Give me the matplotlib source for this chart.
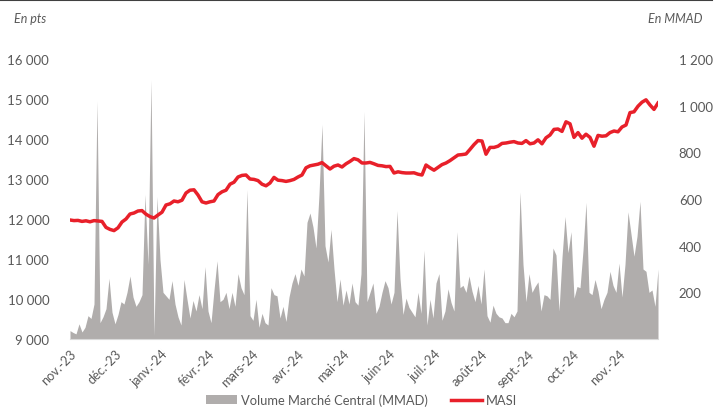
import matplotlib

matplotlib.use('Agg')
import matplotlib.pyplot as plt
from matplotlib.lines import Line2D
from matplotlib.patches import Patch
import pandas as pd

plt.rcParams['font.family'] = ['Lato', 'DejaVu Sans']

start, end = '2023-11-01', '2024-11-27'

# MASI (pts), evenly spaced over the period
masi = [11975, 11960, 11965, 11940, 11955, 11930, 11960, 11950, 11940, 11790,
        11740, 11710, 11780, 11925, 12000, 12125, 12150, 12200, 12210, 12120,
        12060, 12025, 12100, 12170, 12350, 12380, 12450, 12430, 12470, 12650,
        12720, 12730, 12600, 12430, 12400, 12430, 12450, 12610, 12680, 12720,
        12870, 12920, 13050, 13090, 13100, 13000, 12990, 12960, 12870, 12830,
        12900, 13040, 12970, 12960, 12940, 12960, 12990, 13050, 13100, 13280,
        13330, 13350, 13370, 13410, 13330, 13250, 13320, 13350, 13300, 13380,
        13440, 13510, 13480, 13400, 13400, 13415, 13380, 13340, 13330, 13310,
        13315, 13150, 13180, 13160, 13150, 13150, 13155, 13120, 13100, 13350,
        13280, 13220, 13290, 13360, 13400, 13460, 13530, 13600, 13610, 13625,
        13740, 13860, 13960, 13950, 13620, 13790, 13790, 13820, 13890, 13900,
        13920, 13935, 13900, 13890, 13960, 13880, 13900, 13980, 13880, 14030,
        14100, 14240, 14250, 14190, 14430, 14380, 14040, 14160, 14020, 14120,
        14040, 13820, 14090, 14070, 14080, 14160, 14200, 14180, 14300, 14350,
        14660, 14680, 14820, 14920, 14980, 14850, 14740, 14900]

# Volume Marché Central (MMAD), evenly spaced over the period
volume = [36, 28, 22, 65, 30, 50, 100, 88, 150, 1020,
          70, 95, 130, 260, 115, 65, 105, 160, 150, 200,
          270, 180, 140, 160, 190, 620, 320, 1110, 15, 610,
          340, 200, 185, 170, 250, 150, 95, 60, 255, 170,
          90, 165, 120, 190, 130, 310, 120, 70, 210, 335,
          160, 170, 200, 130, 200, 140, 280, 220, 190, 640,
          100, 80, 170, 50, 110, 70, 60, 220, 190, 185,
          90, 140, 75, 180, 240, 280, 230, 300, 270, 500,
          540, 480, 390, 620, 920, 400, 330, 470, 300, 160,
          257, 145, 210, 150, 240, 160, 145, 280, 975, 160,
          200, 240, 110, 140, 200, 250, 220, 150, 200, 550,
          260, 105, 175, 135, 115, 95, 200, 110, 380, 60,
          170, 90, 240, 280, 80, 120, 215, 157, 120, 460,
          220, 230, 200, 270, 205, 160, 230, 150, 300, 100,
          72, 145, 110, 95, 90, 70, 70, 110, 95, 120,
          630, 320, 160, 280, 200, 225, 245, 120, 190, 185,
          170, 390, 360, 120, 350, 525, 370, 460, 175, 225,
          220, 380, 585, 200, 190, 255, 205, 130, 170, 200,
          290, 230, 200, 325, 180, 320, 545, 450, 355, 440,
          590, 300, 290, 200, 210, 140, 300]

month_labels = ['nov.-23', 'déc.-23', 'janv.-24', 'févr.-24', 'mars-24', 'avr.-24',
                'mai-24', 'juin-24', 'juil.-24', 'août-24', 'sept.-24', 'oct.-24',
                'nov.-24']
left_ticks = [9000, 10000, 11000, 12000, 13000, 14000, 15000, 16000]
right_ticks = [200, 400, 600, 800, 1000, 1200]

masi_dates = pd.date_range(start, end, periods=len(masi))
vol_dates = pd.date_range(start, end, periods=len(volume))
month_dates = pd.date_range(start, periods=len(month_labels), freq='MS')

txt = '#595959'
grey = '#b0adac'
red = '#e8202a'

fig = plt.figure(figsize=(7.17, 4.10), dpi=100)
ax = fig.add_axes([70 / 717, 70 / 410, 588 / 717, 280 / 410])
ax2 = ax.twinx()
ax.set_zorder(ax2.get_zorder() + 1)
ax.patch.set_visible(False)

ax2.fill_between(vol_dates, volume, 0, color=grey, lw=0)
ax.plot(masi_dates, masi, color=red, lw=2.5, solid_joinstyle='round')

ax.set_xlim(pd.Timestamp(start), pd.Timestamp(end))
ax.set_ylim(9000, 16000)
ax2.set_ylim(0, 1200)

ax.set_yticks(left_ticks)
ax.set_yticklabels([f'{v:,}'.replace(',', ' ') for v in left_ticks])
ax2.set_yticks(right_ticks)
ax2.set_yticklabels([f'{v:,}'.replace(',', ' ') for v in right_ticks])
ax.set_xticks(month_dates)
ax.set_xticklabels(month_labels, rotation=45, ha='right', rotation_mode='anchor')

for a in (ax, ax2):
    for s in a.spines.values():
        s.set_visible(False)
    a.tick_params(length=0, colors=txt, labelsize=9.5)
ax.tick_params(axis='y', pad=15)
ax2.tick_params(axis='y', pad=15)
ax.tick_params(axis='x', pad=6, labelsize=9.2)
ax2.spines['bottom'].set_visible(True)
ax2.spines['bottom'].set_color('#d9d9d9')

fig.text(14 / 717, 1 - 19 / 410, 'En pts', style='italic', color=txt, fontsize=9,
         va='center', ha='left')
fig.text(703 / 717, 1 - 19 / 410, 'En MMAD', style='italic', color=txt, fontsize=9,
         va='center', ha='right')
fig.add_artist(Line2D([0, 712 / 717], [1 - 1 / 410, 1 - 1 / 410], color='#404040', lw=1.5))

handles = [Patch(color=grey, lw=0), Line2D([], [], color=red, lw=2.5)]
fig.legend(handles, ['Volume Marché Central (MMAD)', 'MASI'], loc='center',
           bbox_to_anchor=(0.504, 9 / 410), ncol=2, frameon=False, fontsize=9.3,
           handlelength=2.4, handleheight=0.75, handletextpad=0.3, columnspacing=1.8,
           labelcolor=txt)

fig.savefig('out.png', dpi=100)
